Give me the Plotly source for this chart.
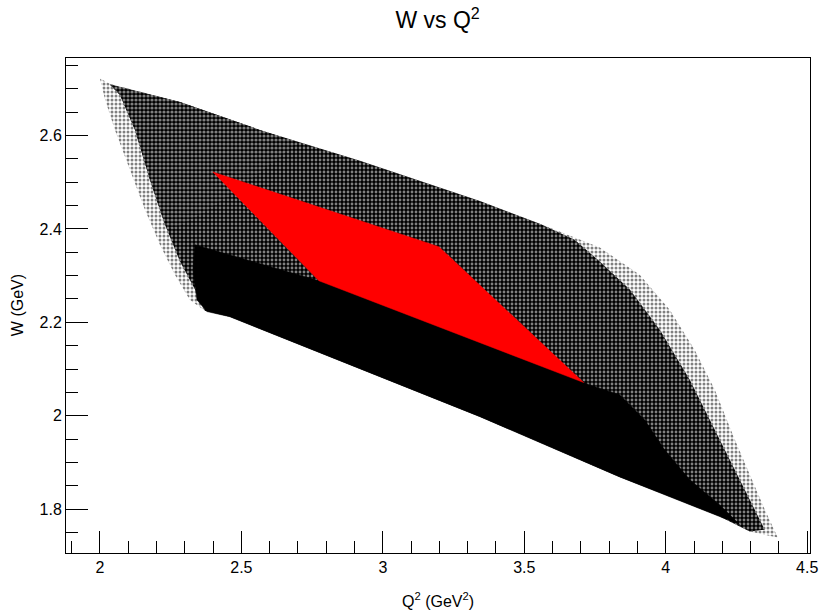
import plotly.graph_objects as go

# Outer (sparse) extent of the W vs Q2 scatter
envelope_q2 = [2.000, 2.035, 2.283, 2.565, 2.919, 3.343, 3.555, 3.696, 3.767, 3.908, 4.014, 4.102,
               4.173, 4.244, 4.304, 4.350, 4.396, 4.297, 4.191, 4.014, 3.837, 3.343, 2.989, 2.636,
               2.459, 2.371, 2.318, 2.265, 2.212, 2.159, 2.106, 2.053, 2.018]
envelope_w = [2.722, 2.711, 2.672, 2.612, 2.546, 2.460, 2.411, 2.377, 2.360, 2.302, 2.227, 2.141,
              2.056, 1.949, 1.863, 1.799, 1.739, 1.752, 1.784, 1.827, 1.869, 1.998, 2.084, 2.169,
              2.212, 2.225, 2.248, 2.302, 2.366, 2.441, 2.527, 2.612, 2.677]

# Main (speckled) body of the scatter
speckle_q2 = [2.035, 2.283, 2.565, 2.919, 3.343, 3.555, 3.678, 3.767, 3.873, 3.979, 4.085, 4.173,
              4.244, 4.304, 4.350, 4.297, 4.191, 4.014, 3.837, 3.343, 2.989, 2.636, 2.459, 2.371,
              2.336, 2.283, 2.230, 2.177, 2.124, 2.071]
speckle_w = [2.709, 2.672, 2.612, 2.546, 2.460, 2.411, 2.377, 2.330, 2.270, 2.184, 2.077, 1.970,
             1.884, 1.809, 1.756, 1.752, 1.784, 1.827, 1.869, 1.998, 2.084, 2.169, 2.212, 2.225,
             2.270, 2.330, 2.409, 2.505, 2.612, 2.687]

# Lighter (less populated) upper-left part of the body
light_q2 = [2.035, 2.283, 2.565, 2.700, 2.520, 2.380, 2.260, 2.230, 2.177, 2.124, 2.071]
light_w = [2.709, 2.672, 2.612, 2.585, 2.500, 2.440, 2.400, 2.409, 2.505, 2.612, 2.687]

# Saturated (solid) part of the scatter
dense_q2 = [2.336, 2.495, 2.774, 3.060, 3.696, 3.731, 3.837, 3.926, 3.996, 4.085, 4.191, 4.261,
            4.191, 4.014, 3.837, 3.343, 2.989, 2.636, 2.459, 2.378, 2.343, 2.329]
dense_w = [2.366, 2.338, 2.289, 2.248, 2.077, 2.066, 2.045, 1.991, 1.927, 1.863, 1.809, 1.767,
           1.784, 1.827, 1.869, 1.998, 2.084, 2.169, 2.212, 2.223, 2.248, 2.313]

# Red selected region
cut_q2 = [2.399, 3.198, 3.710, 2.774]
cut_w = [2.522, 2.362, 2.071, 2.289]

x_ticks = [2, 2.5, 3, 3.5, 4, 4.5]
x_ticklabels = ["2", "2.5", "3", "3.5", "4", "4.5"]
y_ticks = [1.8, 2.0, 2.2, 2.4, 2.6]
y_ticklabels = ["1.8", "2", "2.2", "2.4", "2.6"]

FONT = "Liberation Sans, Arial, Helvetica, sans-serif"


def region(xs, ys, pattern=None, color="black"):
    kw = dict(x=xs + xs[:1], y=ys + ys[:1], mode="lines", fill="toself",
              line=dict(width=0), hoverinfo="skip", showlegend=False)
    if pattern is not None:
        kw["fillcolor"] = pattern["bgcolor"]
        kw["fillpattern"] = pattern
    else:
        kw["fillcolor"] = color
        kw["line"] = dict(width=0.5, color=color)
    return go.Scatter(**kw)


fig = go.Figure()
fig.add_trace(region(envelope_q2, envelope_w,
                     dict(shape=".", fgcolor="black", bgcolor="white", size=4, solidity=0.45)))
fig.add_trace(region(speckle_q2, speckle_w,
                     dict(shape=".", fgcolor="white", bgcolor="black", size=4, solidity=0.4)))
fig.add_trace(region(light_q2, light_w,
                     dict(shape=".", fgcolor="white", bgcolor="black", size=4, solidity=0.5)))
fig.add_trace(region(dense_q2, dense_w, color="black"))
fig.add_trace(region(cut_q2, cut_w, color="red"))

axis_common = dict(
    showgrid=False, zeroline=False, showline=True, linecolor="black", linewidth=1,
    mirror=True, ticks="inside", tickcolor="black", tickwidth=1, automargin=False,
    tickfont=dict(family=FONT, size=16, color="black"),
)

fig.update_xaxes(
    range=[1.88, 4.51], tickvals=x_ticks, ticktext=x_ticklabels, ticklen=22,
    minor=dict(dtick=0.1, tick0=2, ticklen=12, ticks="inside", tickcolor="black", tickwidth=1),
    **axis_common)
fig.update_yaxes(
    range=[1.706, 2.766], tickvals=y_ticks, ticktext=y_ticklabels, ticklen=22,
    minor=dict(dtick=0.05, tick0=1.8, ticklen=12, ticks="inside", tickcolor="black", tickwidth=1),
    **axis_common)

fig.update_layout(
    width=821, height=615,
    margin=dict(l=66, r=11, t=58, b=62, autoexpand=False),
    paper_bgcolor="white", plot_bgcolor="white",
    title=dict(text="W vs Q<sup>2</sup>", x=0.533, xanchor="center", y=0.967, yanchor="middle",
               yref="container", font=dict(family=FONT, size=23, color="black")),
    annotations=[
        dict(text="Q<sup>2</sup> (GeV<sup>2</sup>)", xref="paper", yref="paper", x=0.5, y=-0.095,
             xanchor="center", yanchor="middle", showarrow=False,
             font=dict(family=FONT, size=16, color="black")),
        dict(text="W (GeV)", xref="paper", yref="paper", x=-0.065, y=0.5, textangle=-90,
             xanchor="center", yanchor="middle", showarrow=False,
             font=dict(family=FONT, size=16, color="black")),
    ],
)

fig.write_html("out.html")
